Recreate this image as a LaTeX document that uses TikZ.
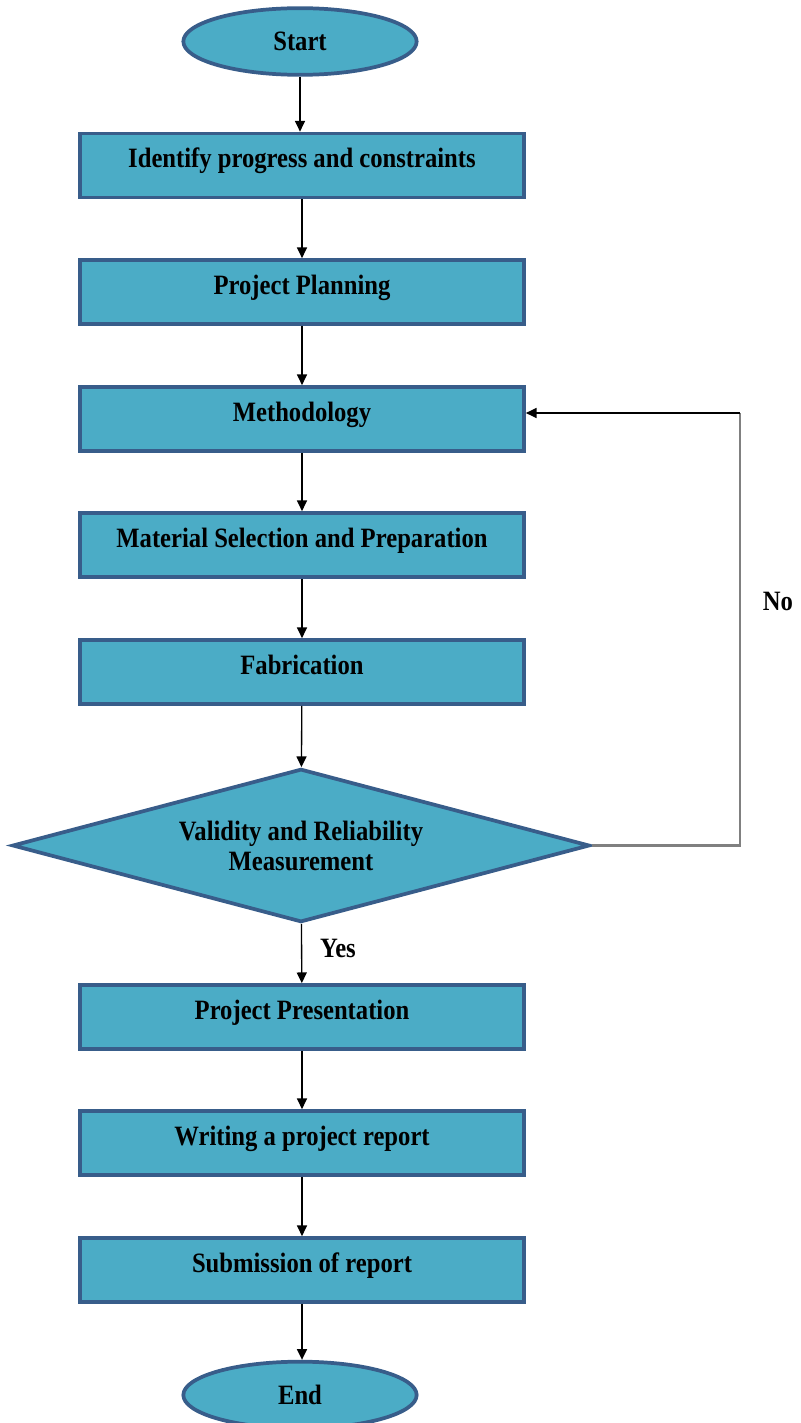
\documentclass[tikz,border=0pt]{standalone}
\usepackage{fontspec}
\setmainfont{Liberation Serif}
\newfontfamily\stepfont[FakeStretch=0.88]{Liberation Serif}
\usetikzlibrary{arrows.meta,shapes.geometric}
\definecolor{stepfill}{HTML}{4BACC6}
\definecolor{stepline}{HTML}{385D8A}
\tikzset{
	stepbox/.style={draw=stepline, fill=stepfill, line width=2.8pt, minimum width=333pt, minimum height=48pt, inner sep=0pt, text height=13pt, text depth=10pt, font=\stepfont\fontsize{21}{23}\selectfont\bfseries},
	terminal/.style={ellipse, draw=stepline, fill=stepfill, line width=2.8pt, minimum width=175pt, minimum height=50pt, inner sep=0pt, font=\stepfont\fontsize{21}{23}\selectfont\bfseries},
	decision/.style={diamond, draw=stepline, fill=stepfill, line width=2.8pt, minimum width=433pt, minimum height=115pt, aspect=3.78, inner sep=0pt, align=center, font=\stepfont\fontsize{21}{22.5}\selectfont\bfseries},
	flow/.style={draw=black, line width=1pt, -{Triangle[width=7.5pt,length=8pt]}},
	loopline/.style={draw=black!50, line width=1.6pt},
	answer/.style={font=\stepfont\fontsize{21}{23}\selectfont\bfseries}
}
\begin{document}
\begin{tikzpicture}[x=0.75pt, y=-0.75pt]
		%%%%% START %%%%%
		\useasboundingbox (0, 0) rectangle (800, 1423);
		
		\node[terminal] (start) at (300, 41.5) {Start};
		\node[stepbox] (identify) at (302, 165.5) {Identify progress and constraints};
		\node[stepbox] (planning) at (302, 292) {Project Planning};
		\node[stepbox] (method) at (302, 419) {Methodology};
		\node[stepbox] (material) at (302, 545) {Material Selection and Preparation};
		\node[stepbox] (fabric) at (302, 672) {Fabrication};
		\node[decision] (valid) at (301, 845.5) {Validity and Reliability\\Measurement};
		\node[stepbox] (present) at (302, 1017) {Project Presentation};
		\node[stepbox] (writing) at (302, 1143) {Writing a project report};
		\node[stepbox] (submit) at (302, 1270) {Submission of report};
		\node[terminal] (end) at (300, 1395) {End};
		
		\draw[flow] (start) -- (start |- identify.north);
		\draw[flow] (identify) -- (planning);
		\draw[flow] (planning) -- (method);
		\draw[flow] (method) -- (material);
		\draw[flow] (material) -- (fabric);
		\draw[flow] (fabric) -- (valid);
		\draw[flow] (valid) -- (present);
		\node[answer] (yes) at (338, 948) {Yes};
		\draw[flow] (present) -- (writing);
		\draw[flow] (writing) -- (submit);
		\draw[flow] (submit.south) -- (submit.south |- end.north);
		
		% back to methodology
		\coordinate (nobend) at (740, 413);
		\draw[loopline] (valid.east) -| (nobend);
		\draw[flow] (nobend) -- (nobend -| method.east);
		\node[answer] (no) at (778, 601) {No};
		
		%%%%% END %%%%%
	\end{tikzpicture}
\end{document}
